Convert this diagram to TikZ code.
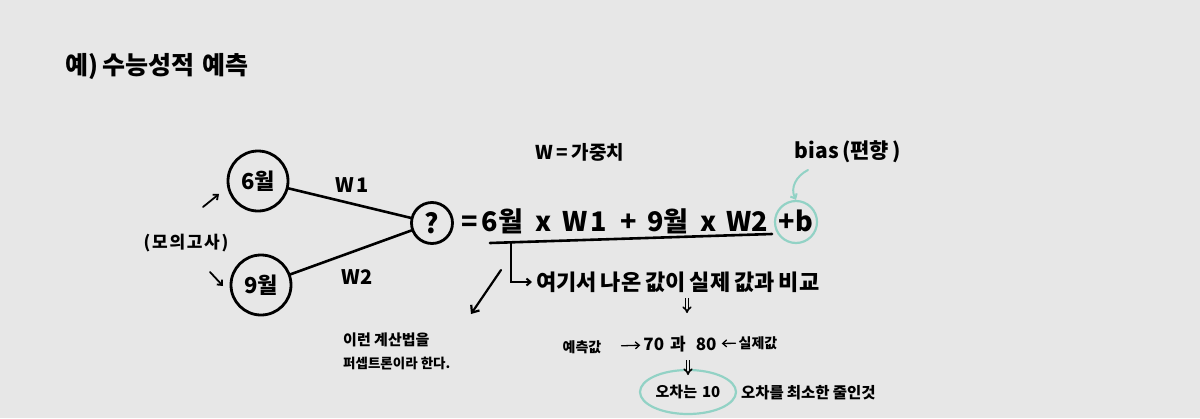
\documentclass[tikz,border=0pt]{standalone}
\usepackage{fontspec}
\setmainfont{Noto Sans CJK KR}
\usetikzlibrary{arrows.meta,shapes.geometric}
\definecolor{bgc}{HTML}{E7E7E7}
\definecolor{tealc}{HTML}{92D2C5}
\newcommand{\fs}[1]{\fontsize{#1}{#1}\selectfont\bfseries}
\tikzset{
  ink/.style={line width=2.6pt, line cap=round},
  nodecirc/.style={circle, draw, line width=2.8pt, inner sep=0pt},
  tealcirc/.style={circle, draw=tealc, line width=2.2pt, inner sep=0pt},
  txt/.style={inner sep=0pt, font=\bfseries},
  arr/.style={ink, line width=1.8pt, -{Straight Barb[length=4pt,width=7pt]}},
  dblarr/.style={line width=1.6pt, double=bgc, double distance=1.3pt, -{Implies[length=4pt]}},
}
\begin{document}
\begin{tikzpicture}[x=1pt,y=-1pt]
\fill[bgc] (0,0) rectangle (1200,418);
\useasboundingbox (0,0) rectangle (1200,418);

\node[txt, anchor=west, font=\fs{25}] (title) at (65,67) {예)\,수능성적\hspace{8pt}예측};

% neurons
\node[nodecirc, minimum size=60pt, font=\fs{22}] (n6) at (258,181) {6월};
\node[nodecirc, minimum size=60pt, font=\fs{22}] (n9) at (261,285) {9월};
\node[nodecirc, minimum size=41pt, font=\fs{27}] (q) at (432,223) {?};
\draw[ink] (n6) -- (q);
\draw[ink] (n9) -- (q);
\node[txt, font=\fs{20}] (w1) at (352,185) {W\hspace{3pt}1};
\node[txt, font=\fs{20}] (w2) at (357,277) {W2};

\node[txt, font=\addfontfeature{LetterSpace=10}\fs{17}] (mo) at (186,243) {(모의고사)};
\coordinate (a1s) at (203,207);
\coordinate (a1e) at (219,194);
\coordinate (a2s) at (210,272);
\coordinate (a2e) at (223,286);
\draw[arr] (a1s) -- (a1e);
\draw[arr] (a2s) -- (a2e);

% equation
\node[txt, anchor=west, font=\fs{27}] (eq) at (461,221) {=\hspace{4pt}6월\hspace{13pt}x\hspace{10pt}W\hspace{3pt}1\hspace{14pt}+\hspace{10pt}9월\hspace{12pt}x\hspace{10pt}W2};
\node[tealcirc, minimum size=42pt] (b) at (796,222) {};
\node[txt, font=\fs{27}] (bt) at (796,221) {+b};
\coordinate (u1) at (490,243);
\coordinate (u2) at (772,234);
\draw[ink] (u1) -- (u2);

\node[txt, font=\fs{19}] (wdef) at (580,152) {W\,=\,가중치};
\node[txt, font=\fs{21}] (bias) at (848,152) {bias\,(편향\,)};
\coordinate (bs) at (808,170);
\draw[tealc, line width=2pt, line cap=round, -{Straight Barb[length=4pt,width=7pt]}] (bs) .. controls (796,176) and (790,188) .. (b.north);

% comparison
\node[txt, anchor=west, font=\fs{22}] (cmp) at (536,282) {여기서\hspace{4pt}나온\hspace{4pt}값이\hspace{4pt}실제\hspace{4pt}값과\hspace{4pt}비교};
\coordinate (v0) at (511,242);
\draw[ink, line width=2pt, -{Straight Barb[length=4pt,width=7pt]}] (v0) |- ([xshift=-4pt]cmp.west);

\coordinate (p0) at (501,270);
\coordinate (p1) at (471,314);
\draw[ink, line width=2.2pt, -{Straight Barb[length=6pt,width=10pt]}] (p0) -- (p1);
\node[txt, anchor=west, font=\fs{15}] (per1) at (343,340) {이런 계산법을};
\node[txt, anchor=west, font=\fs{13.5}] (per2) at (343,364) {퍼셉트론이라 한다.};

\coordinate (d1s) at (687,298);
\coordinate (d1e) at (687,313);
\draw[dblarr] (d1s) -- (d1e);

\node[txt, font=\fs{14}] (pred) at (582,347) {예측값};
\node[txt, font=\fs{17}] (num) at (680,344) {70\hspace{6pt}과\hspace{10pt}80};
\node[txt, font=\fs{14}] (real) at (758,343) {실제값};
\draw[arr, line width=1.3pt, shorten <=20pt, shorten >=3pt] (pred) -- (num);
\draw[arr, line width=1.3pt, shorten <=3pt, shorten >=5pt] (real) -- (num);

\node[ellipse, draw=tealc, line width=2.2pt, minimum width=96pt, minimum height=44pt, inner sep=0pt] (err) at (688,392) {};
\node[txt, font=\fs{15}] (errt) at (688,392) {오차는\hspace{5pt}10};
\coordinate (d2s) at (688,360);
\coordinate (d2e) at (688,375);
\draw[dblarr] (d2s) -- (d2e);
\node[txt, anchor=west, font=\fs{15.5}] (min) at (741,393) {오차를\hspace{3pt}최소한\hspace{3pt}줄인것};
\end{tikzpicture}
\end{document}
